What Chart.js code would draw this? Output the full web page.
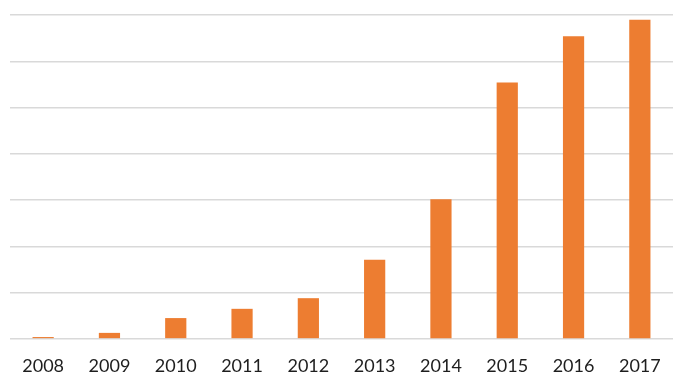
<!DOCTYPE html>
<html>
<head>
    <title>yearly-bars</title>
    <meta charset="utf-8">
    <script src="https://cdn.jsdelivr.net/npm/chart.js"></script>
    <style>
        body { margin: 0; background: #ffffff; }
    </style>
</head>
<body>
    <canvas id="chart" width="679" height="382"></canvas>

    <script>
        // values, in gridline units (axis has no labels)
        const years = ['2008', '2009', '2010', '2011', '2012', '2013', '2014', '2015', '2016', '2017'];
        const values = [0.04, 0.13, 0.45, 0.65, 0.88, 1.71, 3.02, 5.54, 6.54, 6.9];
        const yMax = 7;

        new Chart(document.getElementById('chart'), {
            type: 'bar',
            data: {
                labels: years,
                datasets: [{
                    data: values,
                    backgroundColor: '#ED7D31',
                    categoryPercentage: 1,
                    barPercentage: 0.32
                }]
            },
            options: {
                responsive: false,
                animation: false,
                layout: {
                    padding: { left: 10, right: 6, top: 15, bottom: -10.5 }
                },
                plugins: {
                    legend: { display: false },
                    tooltip: { enabled: false }
                },
                scales: {
                    x: {
                        grid: { display: false, drawTicks: false },
                        border: { display: false },
                        ticks: {
                            color: '#1e1e1e',
                            padding: 16,
                            font: { family: 'Lato', size: 18 }
                        }
                    },
                    y: {
                        min: 0,
                        max: yMax,
                        ticks: { display: false, stepSize: 1 },
                        grid: { color: '#d9d9d9', lineWidth: 1.5, drawTicks: false },
                        border: { display: false }
                    }
                }
            }
        });
    </script>
</body>
</html>
